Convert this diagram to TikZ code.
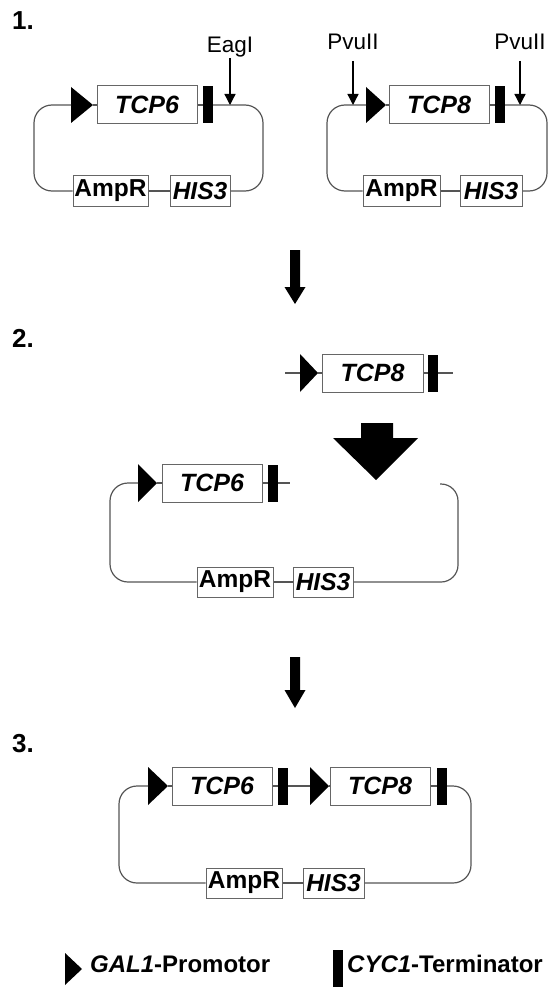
\documentclass[tikz,border=0pt]{standalone}
\usepackage{fontspec}
\setmainfont{Liberation Sans}
\usetikzlibrary{arrows.meta}
\definecolor{linegray}{HTML}{555555}
\definecolor{boxgray}{HTML}{666666}
\begin{document}
\begin{tikzpicture}[x=1pt,y=1pt,
  bb/.style={draw=linegray, line width=1.2pt},
  bbr/.style={bb, rounded corners=18pt},
  gene/.style={draw=boxgray, line width=1pt, fill=white, minimum width=100pt, minimum height=38pt, inner sep=0pt, font=\fontsize{25}{28}\selectfont\bfseries\itshape},
  small/.style={draw=boxgray, line width=1pt, fill=white, minimum height=30pt, inner sep=0pt, font=\fontsize{24.5}{27}\selectfont\bfseries},
  smalli/.style={small, font=\fontsize{24.5}{27}\selectfont\bfseries\itshape},
  term/.style={fill=black, minimum width=10pt, minimum height=37pt, inner sep=0pt},
  lab/.style={inner sep=0pt, anchor=base, font=\fontsize{22.5}{26}\selectfont},
  num/.style={inner sep=0pt, anchor=base west, font=\fontsize{26}{30}\selectfont\bfseries},
  cut/.style={draw=black, line width=1.3pt, -{Triangle[length=11pt,width=11pt]}},
  leg/.style={inner sep=0pt, anchor=base west, font=\fontsize{24}{27}\selectfont\bfseries}
]
\useasboundingbox (0,0) rectangle (549,-987);

% ---------- Step numbers ----------
\node[num] (n1) at (12,-30) {1.};
\node[num] (n2) at (12,-347) {2.};
\node[num] (n3) at (12,-752) {3.};

% ---------- Panel 1 left ----------
\coordinate (L1p) at (71,-105);
\coordinate (L1pe) at (93,-105);
\fill (71,-87) -- (93,-105) -- (71,-123) -- cycle;
\node[gene] (L1g) at (147,-105) {TCP6};
\node[term] (L1t) at (208,-105) {};
\node[small, minimum width=75pt] (L1a) at (110.5,-191) {AmpR};
\node[smalli, minimum width=60pt] (L1h) at (200,-191) {HIS3};
\draw[bb] (L1pe) -- (L1g.west);
\draw[bb] (L1g.east) -- (L1t.west);
\draw[bbr] (L1p) -- (34,-105) -- (34,-191) -- (L1a.west);
\draw[bb] (L1a.east) -- (L1h.west);
\draw[bbr] (L1h.east) -- (263,-191) -- (263,-105) -- (L1t.east);
\node[lab] (eag) at (230,-53) {EagI};
\coordinate (eagT) at (230,-105);
\draw[cut] (230,-58) -- (eagT);

% ---------- Panel 1 right ----------
\coordinate (R1p) at (366,-105);
\coordinate (R1pe) at (386,-105);
\fill (366,-87) -- (386,-105) -- (366,-123) -- cycle;
\node[gene] (R1g) at (439,-105) {TCP8};
\node[term] (R1t) at (500,-105) {};
\node[small, minimum width=77pt] (R1a) at (401.5,-191) {AmpR};
\node[smalli, minimum width=62pt] (R1h) at (491,-191) {HIS3};
\draw[bb] (R1pe) -- (R1g.west);
\draw[bb] (R1g.east) -- (R1t.west);
\draw[bbr] (R1p) -- (327,-105) -- (327,-191) -- (R1a.west);
\draw[bb] (R1a.east) -- (R1h.west);
\draw[bbr] (R1h.east) -- (547,-191) -- (547,-105) -- (R1t.east);
\node[lab] (pv1) at (353,-50) {PvuII};
\node[lab] (pv2) at (520,-50) {PvuII};
\coordinate (pv1T) at (353,-105);
\coordinate (pv2T) at (520,-105);
\draw[cut] (353,-61) -- (pv1T);
\draw[cut] (520,-61) -- (pv2T);

% ---------- Arrow 1 ----------
\fill (290,-250) -- (300,-250) -- (300,-287) -- (305.5,-287) -- (295,-304) -- (284.5,-287) -- (290,-287) -- cycle;

% ---------- Panel 2: fragment ----------
\coordinate (F0) at (285,-373);
\coordinate (F1p) at (300,-373);
\coordinate (F1pe) at (318,-373);
\fill (300,-354) -- (318,-373) -- (300,-392) -- cycle;
\node[gene, minimum width=101pt] (Fg) at (372.5,-373) {TCP8};
\node[term] (Ft) at (433,-373) {};
\coordinate (F9) at (453,-373);
\draw[bb] (F0) -- (F1p);
\draw[bb] (F1pe) -- (Fg.west);
\draw[bb] (Fg.east) -- (Ft.west);
\draw[bb] (Ft.east) -- (F9);

% big insertion arrow
\fill (361,-423) -- (393,-423) -- (393,-438) -- (418,-438) -- (376,-480) -- (333,-438) -- (361,-438) -- cycle;

% ---------- Panel 2: opened vector ----------
\coordinate (M1p) at (138,-483);
\coordinate (M1pe) at (157,-483);
\fill (138,-464) -- (157,-483) -- (138,-502) -- cycle;
\node[gene] (Mg) at (212,-483) {TCP6};
\node[term] (Mt) at (273,-483) {};
\coordinate (Mend) at (290,-483);
\coordinate (Mopen) at (440,-484);
\node[small, minimum width=76pt] (Ma) at (235,-582) {AmpR};
\node[smalli, minimum width=60pt] (Mh) at (323,-582) {HIS3};
\draw[bb] (M1pe) -- (Mg.west);
\draw[bb] (Mg.east) -- (Mt.west);
\draw[bb] (Mt.east) -- (Mend);
\draw[bbr] (M1p) -- (110,-483) -- (110,-582) -- (Ma.west);
\draw[bb] (Ma.east) -- (Mh.west);
\draw[bb, rounded corners=17pt] (Mh.east) -- (458,-582) -- (458,-484) -- (Mopen);

% ---------- Arrow 2 ----------
\fill (290,-657) -- (300,-657) -- (300,-690) -- (305.5,-690) -- (295,-708) -- (284.5,-690) -- (290,-690) -- cycle;

% ---------- Panel 3 ----------
\coordinate (T1p) at (148,-786);
\coordinate (T1pe) at (168,-786);
\fill (148,-767) -- (168,-786) -- (148,-805) -- cycle;
\node[gene] (Tg6) at (222,-786) {TCP6};
\node[term] (Tt6) at (283,-786) {};
\coordinate (T2p) at (310,-786);
\coordinate (T2pe) at (329,-786);
\fill (310,-767) -- (329,-786) -- (310,-805) -- cycle;
\node[gene] (Tg8) at (380,-786) {TCP8};
\node[term] (Tt8) at (442,-786) {};
\node[small, minimum width=76pt] (Ta) at (244,-883) {AmpR};
\node[smalli, minimum width=61pt] (Th) at (333.5,-883) {HIS3};
\draw[bb] (T1pe) -- (Tg6.west);
\draw[bb] (Tg6.east) -- (Tt6.west);
\draw[bb] (Tt6.east) -- (T2p);
\draw[bb] (T2pe) -- (Tg8.west);
\draw[bb] (Tg8.east) -- (Tt8.west);
\draw[bbr] (T1p) -- (119,-786) -- (119,-883) -- (Ta.west);
\draw[bb] (Ta.east) -- (Th.west);
\draw[bbr] (Th.east) -- (471,-883) -- (471,-786) -- (Tt8.east);

% ---------- Legend ----------
\fill (65,-953) -- (82,-969) -- (65,-985) -- cycle;
\node[leg] (lgp) at (90,-972) {\textit{GAL1}-Promotor};
\node[term, minimum width=10pt, minimum height=37pt] (lgt) at (338,-968.5) {};
\node[leg] (lgtt) at (347,-972) {\textit{CYC1}-Terminator};
\end{tikzpicture}
\end{document}
